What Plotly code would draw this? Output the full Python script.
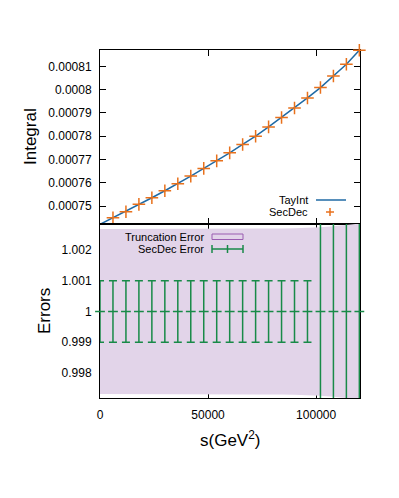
import plotly.graph_objects as go
from plotly.subplots import make_subplots

# ---- data ----
s_values = [0, 6000, 12000, 18000, 24000, 30000, 36000, 42000, 48000, 54000, 60000,
            66000, 72000, 78000, 84000, 90000, 96000, 102000, 108000, 114000, 120000]
secdec_integral = [0.00074216, 0.00074499, 0.00074756, 0.00075073, 0.00075356, 0.00075656,
                   0.00075956, 0.00076286, 0.00076616, 0.00076941, 0.00077284, 0.00077644,
                   0.00078000, 0.00078399, 0.00078801, 0.00079213, 0.00079641, 0.00080087,
                   0.00080584, 0.00081086, 0.00081690]
tayint_integral = [0.00074216, 0.00074499, 0.00074756, 0.00075073, 0.00075356, 0.00075656,
                   0.00075956, 0.00076286, 0.00076616, 0.00076941, 0.00077284, 0.00077644,
                   0.00078000, 0.00078399, 0.00078801, 0.00079213, 0.00079641, 0.00080087,
                   0.00080584, 0.00081086, 0.00081690]
ratio_center = [1.0] * 21
secdec_error = [0.001] * 17 + [0.01, 0.01, 0.01, 0.01]
truncation_error = [0.00268, 0.00268, 0.00268, 0.00268, 0.00268, 0.00268, 0.00268, 0.00268,
                    0.00268, 0.00268, 0.00268, 0.00269, 0.00269, 0.00270, 0.00270, 0.00271,
                    0.00272, 0.00274, 0.00277, 0.00281, 0.00286]

top_tickvals = [0.00075, 0.00076, 0.00077, 0.00078, 0.00079, 0.0008, 0.00081]
top_ticktext = ["0.00075", "0.00076", "0.00077", "0.00078", "0.00079", "0.0008", "0.00081"]
bot_tickvals = [0.998, 0.999, 1.0, 1.001, 1.002]
bot_ticktext = ["0.998", "0.999", "1", "1.001", "1.002"]
x_tickvals = [0, 50000, 100000]
x_ticktext = ["0", "50000", "100000"]

BLUE = "#1f6aa5"
ORANGE = "#e8711c"
GREEN = "#188a48"
BAND = "rgb(226,212,233)"
BAND_EDGE = "#9a5cb0"
FONT = "Liberation Sans, Arial, sans-serif"

fig = make_subplots(rows=2, cols=1, shared_xaxes=True, vertical_spacing=0)

fig.add_trace(go.Scatter(x=s_values, y=tayint_integral, mode="lines",
                         line=dict(color=BLUE, width=1.5), showlegend=False), row=1, col=1)
fig.add_trace(go.Scatter(x=s_values, y=secdec_integral, mode="markers",
                         marker=dict(symbol="cross-thin", size=9, line=dict(color=ORANGE, width=1.5)),
                         cliponaxis=False, showlegend=False), row=1, col=1)

lower = [c - e for c, e in zip(ratio_center, truncation_error)]
upper = [c + e for c, e in zip(ratio_center, truncation_error)]
fig.add_trace(go.Scatter(x=s_values, y=lower, mode="lines", line=dict(width=0, color=BAND),
                         showlegend=False, hoverinfo="skip"), row=2, col=1)
fig.add_trace(go.Scatter(x=s_values, y=upper, mode="lines", line=dict(width=0, color=BAND),
                         fill="tonexty", fillcolor=BAND, showlegend=False, hoverinfo="skip"), row=2, col=1)
fig.add_trace(go.Scatter(x=s_values, y=ratio_center, mode="markers",
                         marker=dict(size=1, color="rgba(0,0,0,0)"),
                         error_y=dict(type="data", array=secdec_error, color=GREEN, thickness=1.5, width=4),
                         cliponaxis=True, showlegend=False), row=2, col=1)
fig.add_trace(go.Scatter(x=s_values, y=ratio_center, mode="markers",
                         marker=dict(symbol="line-ew", size=7, line=dict(color=GREEN, width=1.5)),
                         cliponaxis=False, showlegend=False), row=2, col=1)

axis_common = dict(showline=True, linecolor="black", linewidth=1, mirror="allticks",
                   ticks="inside", ticklen=6, tickcolor="black", tickwidth=1,
                   showgrid=False, zeroline=False, layer="below traces",
                   tickfont=dict(family=FONT, size=12, color="black"))

fig.update_xaxes(range=[0, 120300], tickvals=x_tickvals, ticktext=x_ticktext, **axis_common)
fig.update_xaxes(showticklabels=False, row=1, col=1)
fig.update_xaxes(ticklabelstandoff=6, row=2, col=1)
fig.update_yaxes(range=[0.0007423, 0.0008170], tickvals=top_tickvals, ticktext=top_ticktext,
                 ticklabelstandoff=5, row=1, col=1, **axis_common)
fig.update_yaxes(range=[0.997187, 1.002846], tickvals=bot_tickvals, ticktext=bot_ticktext,
                 ticklabelstandoff=5, row=2, col=1, **axis_common)

W, H = 260.0, 348.0
def px(x):
    return (x - 100) / W
def py(y):
    return (398 - y) / H

ann = []
ann.append(dict(text="Integral", x=px(30), y=py(137), xref="paper", yref="paper", textangle=-90,
                xanchor="center", yanchor="middle",
                showarrow=False, font=dict(family=FONT, size=17, color="black")))
ann.append(dict(text="Errors", x=px(44), y=py(311), xref="paper", yref="paper", textangle=-90,
                xanchor="center", yanchor="middle",
                showarrow=False, font=dict(family=FONT, size=17, color="black")))
ann.append(dict(text="s(GeV<sup>2</sup>)", x=px(230), y=py(439), xref="paper", yref="paper",
                xanchor="center", yanchor="middle",
                showarrow=False, font=dict(family=FONT, size=17, color="black")))
for txt, xr, yy in [("TayInt", 310, 200), ("SecDec", 310, 212), ("Truncation Error", 206, 237),
                    ("SecDec Error", 206, 249)]:
    ann.append(dict(text=txt, x=px(xr), y=py(yy), xref="paper", yref="paper", xanchor="right",
                    yanchor="middle",
                    showarrow=False, font=dict(family=FONT, size=11, color="black")))

shapes = []
# TayInt key
shapes.append(dict(type="line", xref="paper", yref="paper", x0=px(316), x1=px(346), y0=py(200), y1=py(200),
                   line=dict(color=BLUE, width=1.5)))
# SecDec key (+)
shapes.append(dict(type="line", xref="paper", yref="paper", x0=px(326), x1=px(334), y0=py(212), y1=py(212),
                   line=dict(color=ORANGE, width=1.5)))
shapes.append(dict(type="line", xref="paper", yref="paper", x0=px(330), x1=px(330), y0=py(208), y1=py(216),
                   line=dict(color=ORANGE, width=1.5)))
# Truncation error key
shapes.append(dict(type="rect", xref="paper", yref="paper", x0=px(212), x1=px(243), y0=py(239.5), y1=py(234),
                   fillcolor=BAND, line=dict(color=BAND_EDGE, width=1)))
# SecDec error key
shapes.append(dict(type="line", xref="paper", yref="paper", x0=px(212), x1=px(243), y0=py(249), y1=py(249),
                   line=dict(color=GREEN, width=1.5)))
for xx in (212, 227.5, 243):
    shapes.append(dict(type="line", xref="paper", yref="paper", x0=px(xx), x1=px(xx), y0=py(245), y1=py(253),
                       line=dict(color=GREEN, width=1.5)))

fig.update_layout(width=399, height=498, margin=dict(l=92, r=47, t=42, b=108),
                  plot_bgcolor="white", paper_bgcolor="white", showlegend=False,
                  annotations=ann, shapes=shapes, font=dict(family=FONT))

fig.write_html("out.html")
